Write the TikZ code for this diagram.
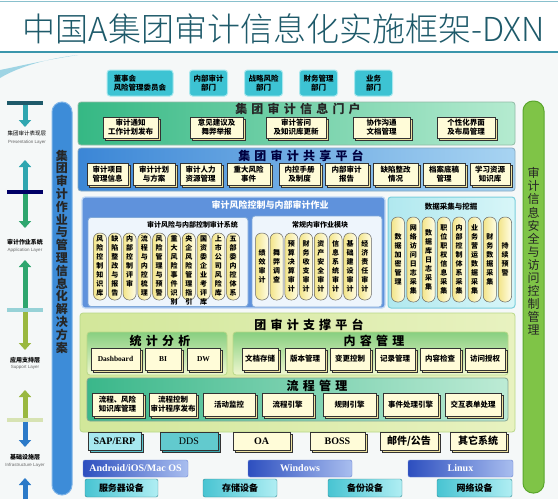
\documentclass[tikz,border=0pt]{standalone}
\usepackage{fontspec}
\setmainfont{Liberation Serif}
\setsansfont{Liberation Sans}
\newfontfamily\cjk{Noto Sans CJK SC}
\newfontfamily\cjklight{Noto Sans CJK SC Light}
\newfontfamily\cjkwide{Noto Sans CJK SC}[LetterSpace=35]
\XeTeXlinebreaklocale "zh"
\XeTeXlinebreakskip=0pt plus 1pt
\usetikzlibrary{arrows.meta, positioning, shadows}
\definecolor{pagebg}{HTML}{F5F8F8}
\definecolor{titleink}{HTML}{1E5A6A}
\definecolor{titleline}{HTML}{3A96AC}
\definecolor{swoosh}{HTML}{9ED4E4}
\definecolor{deptfill}{HTML}{3DC3D3}
\definecolor{deptrim}{HTML}{A8E8EE}
\definecolor{portalL}{HTML}{35B884}
\definecolor{portalR}{HTML}{B5EBD0}
\definecolor{shareL}{HTML}{3B86D6}
\definecolor{shareR}{HTML}{A8D4F2}
\definecolor{riskfill}{HTML}{5F92DC}
\definecolor{riskrim}{HTML}{C0D8F4}
\definecolor{subfill}{HTML}{EEF5FC}
\definecolor{subrim}{HTML}{7FA8D8}
\definecolor{dataL}{HTML}{B0E8EF}
\definecolor{dataR}{HTML}{D8F6F8}
\definecolor{datarim}{HTML}{7ACFDC}
\definecolor{suppL}{HTML}{D2E79A}
\definecolor{suppR}{HTML}{E8F2C0}
\definecolor{supprim}{HTML}{B8D888}
\definecolor{statT}{HTML}{88CF80}
\definecolor{statB}{HTML}{F0F7D0}
\definecolor{flowL}{HTML}{3AB78A}
\definecolor{flowR}{HTML}{BDEBD5}
\definecolor{yface}{HTML}{FFFCD8}
\definecolor{yside}{HTML}{EDE2A0}
\definecolor{boxline}{HTML}{333333}
\definecolor{capL}{HTML}{F3E58A}
\definecolor{capR}{HTML}{FFFDE6}
\definecolor{cyface}{HTML}{A6E8EF}
\definecolor{cyside}{HTML}{5CC4CE}
\definecolor{ddsface}{HTML}{62CACE}
\definecolor{ddsside}{HTML}{3AA8B0}
\definecolor{osL}{HTML}{2D4FBF}
\definecolor{osR}{HTML}{A9BEEF}
\definecolor{hwL}{HTML}{48C4D2}
\definecolor{hwR}{HTML}{B0EEF3}
\definecolor{lbar}{HTML}{3D8CD8}
\definecolor{lbarrim}{HTML}{7EB4E8}
\definecolor{rbar}{HTML}{7FC447}
\definecolor{rbarrim}{HTML}{5AA62C}
\definecolor{legteal}{HTML}{2FA6B0}
\definecolor{leggreen}{HTML}{2EA66E}
\definecolor{legolive}{HTML}{9AB840}
\definecolor{legblue}{HTML}{2C7AC8}
\tikzset{
  wh/.style 2 args={minimum width=#1pt, minimum height=#2pt},
  dept/.style={draw=deptrim, line width=1pt, fill=deptfill, rounded corners=3pt, align=left,
               inner sep=2pt, font=\cjk\bfseries\fontsize{7.5}{9}\selectfont},
  panel/.style={rounded corners=3pt, line width=0.8pt},
  ptitle/.style={inner sep=0pt, font=\cjkwide\bfseries\fontsize{12}{12}\selectfont},
  stitle/.style={inner sep=0pt, font=\cjk\bfseries\fontsize{7}{8}\selectfont},
  box3d/.style 2 args={draw=boxline, line width=0.5pt, fill=#1, align=center, inner sep=1pt,
               copy shadow={shadow xshift=2pt, shadow yshift=-2pt, fill=#2, draw=boxline}},
  ybox/.style={box3d={yface}{yside}, font=\cjk\bfseries\fontsize{7.5}{9}\selectfont},
  latinbox/.style={font=\bfseries\fontsize{7.5}{8}\selectfont},
  sysbox/.style={font=\bfseries\fontsize{10}{10}\selectfont},
  capsule/.style={draw=black!60, line width=0.5pt, left color=capL, right color=capR,
               rounded corners=6pt, minimum width=13pt, inner sep=0pt},
  vtext/.style={text width=9pt, align=center, inner sep=0pt, font=\cjk\bfseries\fontsize{7}{9}\selectfont},
  osbar/.style={left color=osL, right color=osR, draw=osL!70, rounded corners=2pt, text=white,
               font=\bfseries\fontsize{10}{10}\selectfont},
  hwbar/.style={left color=hwL, right color=hwR, draw=hwL!70!black, rounded corners=2pt,
               font=\cjk\bfseries\fontsize{9}{9}\selectfont},
  legbar/.style={minimum width=36pt, minimum height=3.5pt, inner sep=0pt},
  legarrow/.style={line width=5pt, -{Triangle[width=12pt,length=7pt]}},
  legzh/.style={inner sep=0pt, font=\cjk\bfseries\fontsize{6}{6}\selectfont},
  legen/.style={inner sep=0pt, text=black!60, font=\sffamily\fontsize{4.5}{5}\selectfont},
}
\begin{document}
\begin{tikzpicture}[x=1pt,y=-1pt]
\useasboundingbox (0,0) rectangle (558,499);
\fill[pagebg] (0,0) rectangle (558,499);
\fill[white] (0,0) rectangle (558,52);
\draw[titleline!60, line width=0.6pt] (0,1.5) -- (558,1.5);
\draw[titleline, line width=1.6pt] (0,52) -- (558,52);
\fill[swoosh] (0,78) .. controls (20,66) and (50,58) .. (78,55) .. controls (45,60) and (20,66) .. (0,70) -- cycle;

\node[font=\cjklight\fontsize{33}{33}\selectfont, text=titleink] (title) at (284,29) {中国A集团审计信息化实施框架-DXN};

% departments
\node[dept, wh={66}{26}] (dep1) at (140,83) {董事会\\风险管理委员会};
\node[dept, wh={38}{26}, align=center] (dep2) at (208.5,83) {内部审计\\部门};
\node[dept, wh={38}{26}, align=center] (dep3) at (263.5,83) {战略风险\\部门};
\node[dept, wh={38}{26}, align=center] (dep4) at (318.5,83) {财务管理\\部门};
\node[dept, wh={38}{26}, align=center] (dep5) at (373.5,83) {业务\\部门};

% side bars
\node[fill=lbar, draw=lbarrim, line width=1pt, rounded corners=10pt, wh={20}{393}] (lbarbox) at (62,298.5) {};
\node[vtext, text width=13pt, text=black!85, font=\cjk\bfseries\fontsize{12}{12.8}\selectfont] (lbartext) at (62,251.5) {集团审计作业与管理信息化解决方案};
\node[fill=rbar, draw=rbarrim, line width=1pt, rounded corners=10pt, wh={21}{392}] (rbarbox) at (533.5,297) {};
\node[vtext, text width=13pt, text=black!85, font=\cjk\fontsize{12}{13.1}\selectfont] (rbartext) at (533.5,251.5) {审计信息安全与访问控制管理};

% portal
\node[panel, draw=portalR!80!black, left color=portalL, right color=portalR, wh={437}{43}] (portal) at (296.5,123.5) {};
\node[ptitle, text=black!85] (portalT) at (298,109) {集团审计信息门户};
\node[ybox, wh={55}{21}] (por1) at (130.5,127.5) {审计通知\\工作计划发布};
\node[ybox, wh={53}{21}] (por2) at (216.5,127.5) {意见建议及\\舞弊举报};
\node[ybox, wh={60}{21}] (por3) at (296,127.5) {审计答问\\及知识库更新};
\node[ybox, wh={57}{21}] (por4) at (381.5,127.5) {协作沟通\\文档管理};
\node[ybox, wh={58}{21}] (por5) at (466,127.5) {个性化界面\\及布局管理};

% shared platform
\node[panel, draw=shareR!80!black, left color=shareL, right color=shareR, wh={437}{43}] (share) at (296.5,169.5) {};
\node[ptitle, text=blue!25!black] (shareT) at (301,156) {集团审计共享平台};
\node[ybox, wh={41}{22}] (sh1) at (107.5,174) {审计项目\\管理信息};
\node[ybox, wh={42}{22}] (sh2) at (154,174) {审计计划\\与方案};
\node[ybox, wh={41}{22}] (sh3) at (200.5,174) {审计人力\\资源管理};
\node[ybox, wh={43}{22}] (sh4) at (248.5,174) {重大风险\\事件};
\node[ybox, wh={41}{22}] (sh5) at (299.5,174) {内控手册\\及制度};
\node[ybox, wh={43}{22}] (sh6) at (346.5,174) {内部审计\\报告};
\node[ybox, wh={45}{22}] (sh7) at (395.5,174) {缺陷整改\\情况};
\node[ybox, wh={42}{22}] (sh8) at (444,174) {档案底稿\\管理};
\node[ybox, wh={40}{22}] (sh9) at (490,174) {学习资源\\知识库};

% risk control and internal audit
\node[panel, draw=riskrim, line width=1.2pt, fill=riskfill, wh={303}{111}] (risk) at (233.5,252.5) {};
\node[inner sep=0pt, text=white, font=\cjk\bfseries\fontsize{9}{9}\selectfont] (riskT) at (270,205) {审计风险控制与内部审计作业};
\node[panel, draw=subrim, fill=subfill, wh={160}{89}] (rcsys) at (168,262) {};
\node[stitle] (rcsysT) at (192.5,225) {审计风险与内部控制审计系统};
\foreach \t [count=\i] in {风险控制知识库,缺陷整改与报告,内部控制评审,流程与内控梳理,风险管理与预警,重大风险事件识别,央企风险管理指引,国资委企业考评库,上市公司风险库,五部委内控体系}{
  \node[capsule, minimum height=67pt] (rc\i) at ({85.2+14.8*\i},266.5) {};
  \node[vtext, below=3pt of rc\i.north] (rct\i) {\t};
}
\node[panel, draw=subrim, fill=subfill, wh={130}{91}] (routine) at (317,261.5) {};
\node[stitle] (routineT) at (320,225) {常规内审作业模块};
\foreach \t [count=\i] in {绩效审计,舞弊调查,预算决算审计,财务收支审计,资产安全审计,信息系统审计,基础建设审计,经济责任审计}{
  \node[capsule, minimum height=67pt] (ra\i) at ({247.3+14.7*\i},266.5) {};
  \node[vtext] (rat\i) at (ra\i) {\t};
}

% data collection
\node[panel, draw=datarim, line width=1pt, left color=dataL, right color=dataR, wh={127}{111}] (data) at (451.5,252.5) {};
\node[stitle, font=\cjk\bfseries\fontsize{7.5}{8}\selectfont] (dataT) at (451,207) {数据采集与挖掘};
\foreach \t [count=\i] in {数据加密管理,网络访问日志采集,数据库日志采集,职位职权信息采集,内部控制体系采集,业务营运数据采集,财务数据采集,持续预警}{
  \node[capsule, minimum height=85pt] (dc\i) at ({382.7+15.3*\i},259.5) {};
  \node[vtext] (dct\i) at (dc\i) {\t};
}

% support platform
\node[panel, draw=supprim, left color=suppL, right color=suppR, wh={435}{119}] (support) at (297.5,372.5) {};
\node[ptitle] (supportT) at (309,325) {团审计支撑平台};
\node[panel, draw=supprim, top color=statT, bottom color=statB, wh={140}{43}] (stat) at (157,353.5) {};
\node[ptitle] (statT) at (160,341) {统计分析};
\node[ybox, latinbox, wh={49}{22}] (st1) at (115.5,359) {Dashboard};
\node[ybox, latinbox, wh={36}{22}] (st2) at (163,359) {BI};
\node[ybox, latinbox, wh={33}{22}] (st3) at (203.5,359) {DW};
\node[panel, draw=supprim, top color=statT, bottom color=statB, wh={275}{43}] (content) at (370.5,353.5) {};
\node[ptitle] (contentT) at (374,341) {内容管理};
\node[ybox, wh={36}{22}] (ct1) at (260,359) {文档存储};
\node[ybox, wh={40}{22}] (ct2) at (305,359) {版本管理};
\node[ybox, wh={40}{22}] (ct3) at (350,359) {变更控制};
\node[ybox, wh={40}{22}] (ct4) at (395,359) {记录管理};
\node[ybox, wh={40}{22}] (ct5) at (440,359) {内容检查};
\node[ybox, wh={40}{22}] (ct6) at (485,359) {访问授权};
\node[panel, draw=flowR!70!black, left color=flowL, right color=flowR, wh={421}{43}] (flow) at (297.5,399.5) {};
\node[ptitle] (flowT) at (317,386) {流程管理};
\node[ybox, wh={51}{23}] (fl1) at (117.5,404.5) {流程、风险\\知识库管理};
\node[ybox, wh={46}{23}] (fl2) at (173,404.5) {流程控制\\审计程序发布};
\node[ybox, wh={52}{23}] (fl3) at (229,404.5) {活动监控};
\node[ybox, wh={51}{23}] (fl4) at (287.5,404.5) {流程引擎};
\node[ybox, wh={53}{23}] (fl5) at (349.5,404.5) {规则引擎};
\node[ybox, wh={55}{23}] (fl6) at (410.5,404.5) {事件处理引擎};
\node[ybox, wh={56}{23}] (fl7) at (473,404.5) {交互表单处理};

% systems, platforms, devices
\node[box3d={cyface}{cyside}, sysbox, wh={53}{18}] (sap) at (114.5,441) {SAP/ERP};
\node[box3d={ddsface}{ddsside}, font=\fontsize{10}{10}\selectfont, wh={58}{18}] (dds) at (189,441) {DDS};
\node[ybox, sysbox, wh={57}{18}] (oa) at (261.5,441) {OA};
\node[ybox, sysbox, wh={55}{18}] (boss) at (337.5,441) {BOSS};
\node[ybox, sysbox, font=\cjk\bfseries\fontsize{10}{10}\selectfont, wh={58}{18}] (mail) at (409,441) {邮件/公告};
\node[ybox, sysbox, font=\cjk\bfseries\fontsize{10}{10}\selectfont, wh={56}{18}] (other) at (478,441) {其它系统};
\node[osbar, wh={105}{17}] (android) at (135.5,468.5) {Android/iOS/Mac OS};
\node[osbar, wh={104}{17}] (windows) at (300,468.5) {Windows};
\node[osbar, wh={105}{17}] (linux) at (460.5,468.5) {Linux};
\node[hwbar, wh={73}{18}] (server) at (121.5,488) {服务器设备};
\node[hwbar, wh={74}{18}] (storage) at (240,488) {存储设备};
\node[hwbar, wh={74}{18}] (backup) at (365,488) {备份设备};
\node[hwbar, wh={75}{18}] (network) at (474.5,488) {网络设备};

% layer legend
\node[legbar, fill=titleink] (lb1) at (25,103) {};
\node[legbar, fill=blue!40!black] (lb2) at (25,192) {};
\node[legbar, fill=legteal!50] (lb3) at (25,310) {};
\node[legbar, fill=legolive!40] (lb4) at (25,420) {};
\coordinate (tip1) at (25,127);
\coordinate (tip2) at (25,160);
\coordinate (tip3) at (25,228);
\coordinate (tip4) at (25,260);
\coordinate (tip5) at (25,350);
\coordinate (tip6) at (25,390);
\coordinate (tip7) at (25,447);
\coordinate (tip8) at (25,478);
\coordinate (base8) at (25,499);
\draw[legarrow, legteal] (lb1) -- (tip1);
\draw[legarrow, legteal] (lb2) -- (tip2);
\draw[legarrow, leggreen] (lb2) -- (tip3);
\draw[legarrow, leggreen] (lb3) -- (tip4);
\draw[legarrow, legolive] (lb3) -- (tip5);
\draw[legarrow, legolive] (lb4) -- (tip6);
\draw[legarrow, legblue] (lb4) -- (tip7);
\draw[legarrow, legblue] (base8) -- (tip8);
\node[legzh, font=\cjk\fontsize{5.5}{6}\selectfont] (lt1) at (27,133) {集团审计表现层};
\node[legen] (le1) at (27,142) {Presentation Layer};
\node[legzh] (lt2) at (25,242) {审计作业系统};
\node[legen] (le2) at (25,250) {Application Layer};
\node[legzh] (lt3) at (25,360) {应用支持层};
\node[legen] (le3) at (25,367) {Support Layer};
\node[legzh] (lt4) at (25,457) {基础设施层};
\node[legen] (le4) at (25,465) {Infrastructure Layer};
\end{tikzpicture}
\end{document}
